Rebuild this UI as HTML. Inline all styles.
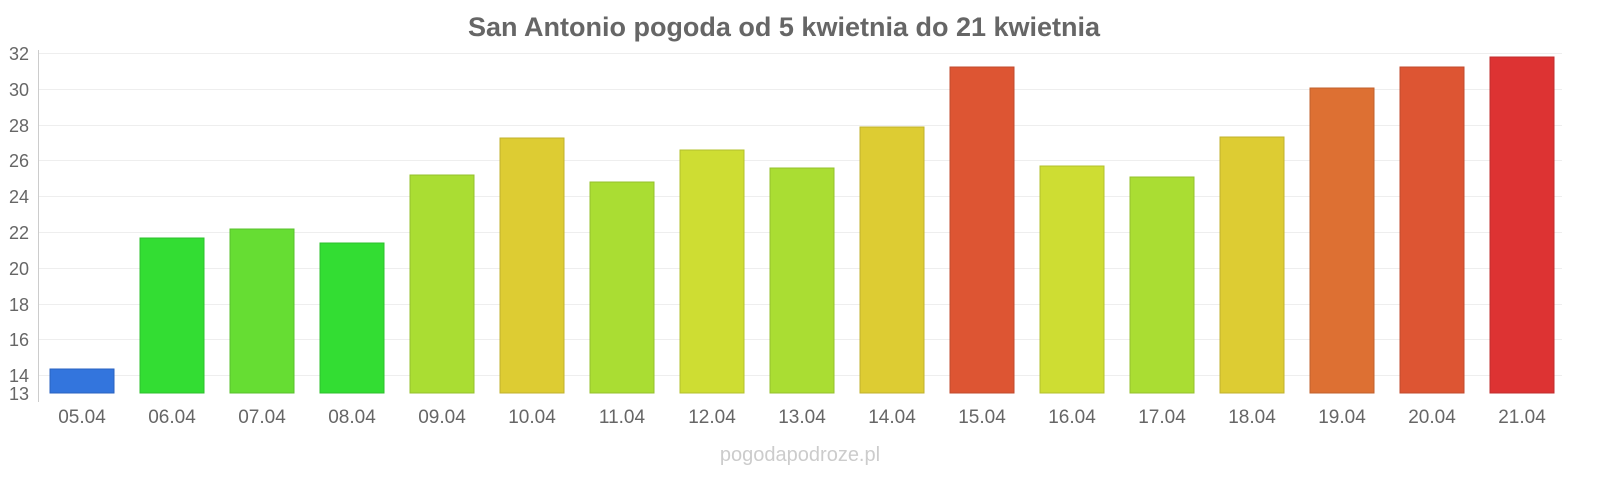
<!DOCTYPE html>
<html><head><meta charset="utf-8"><style>body{margin:0;background:#fff}svg{display:block}</style></head>
<body>
<svg width="1600" height="480" xmlns="http://www.w3.org/2000/svg" font-family="Liberation Sans, sans-serif">
<text x="784" y="36" text-anchor="middle" font-size="27" font-weight="bold" fill="#666">San Antonio pogoda od 5 kwietnia do 21 kwietnia</text>
<g stroke="#eee" stroke-width="1">
<line x1="38" x2="1562" y1="53.5" y2="53.5"/><line x1="38" x2="1562" y1="89.5" y2="89.5"/><line x1="38" x2="1562" y1="125.5" y2="125.5"/><line x1="38" x2="1562" y1="160.5" y2="160.5"/><line x1="38" x2="1562" y1="196.5" y2="196.5"/><line x1="38" x2="1562" y1="232.5" y2="232.5"/><line x1="38" x2="1562" y1="268.5" y2="268.5"/><line x1="38" x2="1562" y1="304.5" y2="304.5"/><line x1="38" x2="1562" y1="339.5" y2="339.5"/><line x1="38" x2="1562" y1="375.5" y2="375.5"/>
</g>
<line x1="38.5" x2="38.5" y1="50" y2="402" stroke="#ccc"/>
<g font-size="18" fill="#666" text-anchor="end">
<text x="29" y="60">32</text><text x="29" y="96">30</text><text x="29" y="132">28</text><text x="29" y="167">26</text><text x="29" y="203">24</text><text x="29" y="239">22</text><text x="29" y="275">20</text><text x="29" y="311">18</text><text x="29" y="346">16</text><text x="29" y="382">14</text><text x="29" y="400">13</text>
</g>
<g stroke-width="1">
<rect x="50" y="369" width="64" height="24" fill="#3375dd" stroke="#2a62c0"/>
<rect x="140" y="238" width="64" height="155" fill="#33dd33" stroke="#2cc02c"/>
<rect x="230" y="229" width="64" height="164" fill="#66dd33" stroke="#58c02c"/>
<rect x="320" y="243" width="64" height="150" fill="#33dd33" stroke="#2cc02c"/>
<rect x="410" y="175" width="64" height="218" fill="#aadd33" stroke="#94c02c"/>
<rect x="500" y="138" width="64" height="255" fill="#ddcc33" stroke="#c0b12c"/>
<rect x="590" y="182" width="64" height="211" fill="#aadd33" stroke="#94c02c"/>
<rect x="680" y="150" width="64" height="243" fill="#cedd33" stroke="#b3c02c"/>
<rect x="770" y="168" width="64" height="225" fill="#aadd33" stroke="#94c02c"/>
<rect x="860" y="127" width="64" height="266" fill="#ddcc33" stroke="#c0b12c"/>
<rect x="950" y="67" width="64" height="326" fill="#dd5533" stroke="#c04a2c"/>
<rect x="1040" y="166" width="64" height="227" fill="#cedd33" stroke="#b3c02c"/>
<rect x="1130" y="177" width="64" height="216" fill="#aadd33" stroke="#94c02c"/>
<rect x="1220" y="137" width="64" height="256" fill="#ddcc33" stroke="#c0b12c"/>
<rect x="1310" y="88" width="64" height="305" fill="#dd7033" stroke="#c0612c"/>
<rect x="1400" y="67" width="64" height="326" fill="#dd5533" stroke="#c04a2c"/>
<rect x="1490" y="57" width="64" height="336" fill="#dd3333" stroke="#c02c2c"/>
</g>
<g font-size="19" fill="#666" text-anchor="middle">
<text x="82" y="423">05.04</text><text x="172" y="423">06.04</text><text x="262" y="423">07.04</text><text x="352" y="423">08.04</text><text x="442" y="423">09.04</text><text x="532" y="423">10.04</text><text x="622" y="423">11.04</text><text x="712" y="423">12.04</text><text x="802" y="423">13.04</text><text x="892" y="423">14.04</text><text x="982" y="423">15.04</text><text x="1072" y="423">16.04</text><text x="1162" y="423">17.04</text><text x="1252" y="423">18.04</text><text x="1342" y="423">19.04</text><text x="1432" y="423">20.04</text><text x="1522" y="423">21.04</text>
</g>
<text x="800" y="461" text-anchor="middle" font-size="20" fill="#ccc">pogodapodroze.pl</text>
</svg>
</body></html>
